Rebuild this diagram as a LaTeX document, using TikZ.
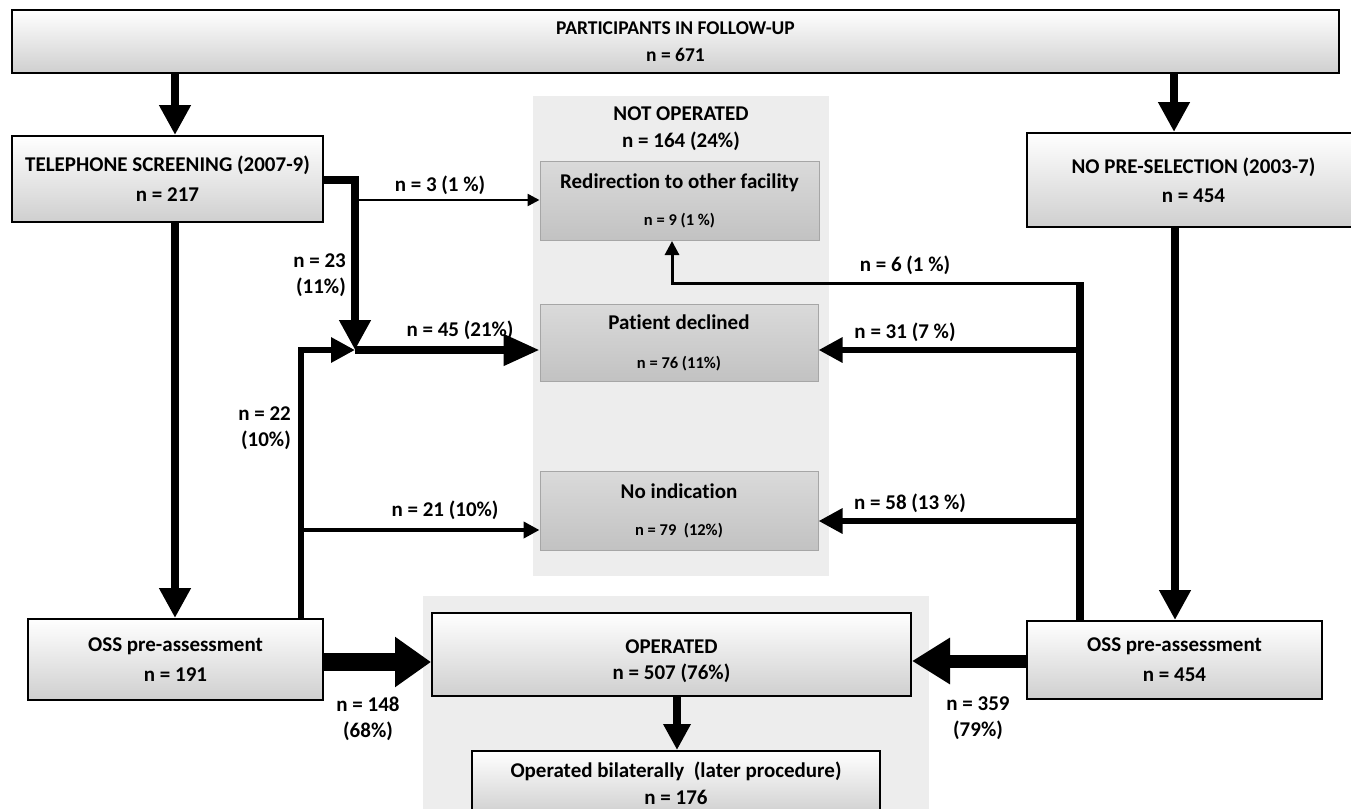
\documentclass[tikz,border=0pt]{standalone}
\usepackage{fontspec}
\setmainfont{Carlito}[Ligatures=NoCommon]
\usetikzlibrary{arrows.meta,calc}
\definecolor{bgpanel}{HTML}{EDEDED}
\definecolor{graytop}{HTML}{DADADA}
\definecolor{graybot}{HTML}{C2C2C2}
\definecolor{grayedge}{HTML}{A6A6A6}
\definecolor{boxbot}{HTML}{CFCFCF}
\tikzset{
  mainbox/.style={draw=black, line width=2pt, top color=white, bottom color=boxbot,
    inner sep=0pt, align=center, font=\bfseries\fontsize{21}{30}\selectfont},
  graybox/.style={draw=grayedge, line width=1pt, top color=graytop, bottom color=graybot,
    inner sep=0pt, align=center, font=\bfseries\fontsize{21}{25}\selectfont},
  lbl/.style={font=\bfseries\fontsize{21}{26}\selectfont, inner sep=0pt, align=center},
  thickarr/.style={line width=7.5pt, -{Triangle[length=30pt,width=30pt]}},
  medarr/.style={line width=6pt, -{Triangle[length=24pt,width=24pt]}},
  thinarr/.style={line width=2.5pt, -{Triangle[length=12pt,width=12pt]}},
  bigarr/.style={line width=18pt, -{Triangle[length=36pt,width=48pt]}},
  plainline/.style={line width=7.5pt},
}
\newcommand{\smalln}{\fontsize{16.5}{25}\selectfont}
\begin{document}
\begin{tikzpicture}[x=1pt,y=-1pt]
\useasboundingbox (0,0) rectangle (1351,808);
% background panels
\fill[bgpanel] (533,96) rectangle (829,576);
\fill[bgpanel] (423,596) rectangle (929,815);
% main boxes
\node[mainbox, minimum width=1327pt, minimum height=63pt, font=\bfseries\fontsize{19.5}{27}\selectfont] (top) at (675.5,41.5) {PARTICIPANTS IN FOLLOW-UP\\n = 671};
\node[mainbox, minimum width=311pt, minimum height=86pt] (tel) at (167.5,179) {TELEPHONE SCREENING (2007-9)\\n = 217};
\node[mainbox, minimum width=333pt, minimum height=94pt, font=\bfseries\fontsize{21}{29}\selectfont] (nps) at (1193.5,180) {NO PRE-SELECTION (2003-7)\\n = 454};
\node[mainbox, minimum width=295pt, minimum height=81pt] (ossL) at (175.5,659.5) {OSS pre-assessment\\n = 191};
\node[mainbox, minimum width=295pt, minimum height=78pt] (ossR) at (1174.5,660) {OSS pre-assessment\\n = 454};
\node[mainbox, minimum width=479pt, minimum height=83pt, font=\bfseries\fontsize{21}{26}\selectfont] (oper) at (671.5,654.5) {\rule{0pt}{27pt}OPERATED\\n = 507 (76\%)};
\node[mainbox, minimum width=408pt, minimum height=64pt, font=\bfseries\fontsize{21}{27}\selectfont] (bil) at (676,783) {Operated bilaterally\ \ (later procedure)\\n = 176};
% not operated panel title
\node[lbl, font=\bfseries\fontsize{21}{27}\selectfont] (notop) at (681,129) {NOT OPERATED\\n = 164 (24\%)};
% gray boxes
\node[graybox, minimum width=279pt, minimum height=79pt] (redir) at (679.5,201)
  {Redirection to other facility\\[12pt]\smalln n = 9 (1 \%)};
\node[graybox, minimum width=278pt, minimum height=77pt] (decl) at (679,342.5)
  {Patient declined\\[14pt]\smalln n = 76 (11\%)};
\node[graybox, minimum width=278pt, minimum height=79pt] (noind) at (679,510.5)
  {No indication\\[12pt]\smalln n = 79\ \ (12\%)};
% junction coordinates
\coordinate (jD) at (355,350);
\coordinate (jT) at (355,200);
\coordinate (jL) at (301,530);
\coordinate (jR6) at (1080,283);
\coordinate (jR31) at (1080,350);
\coordinate (jR58) at (1080,521);
% connectors
\draw[thickarr] (175,0 |- top.south) -- (175,0 |- tel.north);
\draw[thickarr] (1174,0 |- top.south) -- (1174,0 |- nps.north);
\draw[thickarr] (175,0 |- tel.south) -- (175,0 |- ossL.north);
\draw[thickarr] (1175,0 |- nps.south) -- (1175,0 |- ossR.north);
\draw[thickarr] (tel.east |- 0,180) -| (jD);
\draw[thinarr] (jT) -- (redir.west |- jT);
\draw[thickarr, -{Triangle[length=36pt,width=30pt]}] (jD) -- (decl.west |- jD);
\draw[medarr] (301,0 |- ossL.north) |- (jD);
\draw[line width=4pt, -{Triangle[length=16pt,width=16pt]}] (jL) -- (noind.west |- jL);
\draw[plainline] (1080,0 |- ossR.north) -- ([yshift=1.5pt]jR6);
\draw[line width=3pt, -{Triangle[length=14pt,width=14pt]}] ([xshift=3.75pt]jR6) -- (672,283) -- (672,0 |- redir.south);
\draw[medarr] (jR31) -- (decl.east |- jR31);
\draw[medarr] (jR58) -- (noind.east |- jR58);
\draw[bigarr] (ossL.east |- 0,662) -- (oper.west |- 0,662);
\draw[line width=13pt, -{Triangle[length=38pt,width=44pt]}] (ossR.west |- 0,661) -- (oper.east |- 0,661);
\draw[line width=7.5pt, -{Triangle[length=26pt,width=26pt]}] (677,0 |- oper.south) -- (677,0 |- bil.north);
% labels
\node[lbl] (l3) at (440,185) {n = 3 (1 \%)};
\node[lbl, anchor=east, align=right] (l23) at (346,275) {n = 23\\(11\%)};
\node[lbl] (l45) at (460,330) {n = 45 (21\%)};
\node[lbl, anchor=east, align=right] (l22) at (291,428) {n = 22\\(10\%)};
\node[lbl] (l21) at (445,510) {n = 21 (10\%)};
\node[lbl] (l6) at (905,265) {n = 6 (1 \%)};
\node[lbl] (l31) at (905,332) {n = 31 (7 \%)};
\node[lbl] (l58) at (910,503) {n = 58 (13 \%)};
\node[lbl] (l148) at (368,719) {n = 148\\(68\%)};
\node[lbl] (l359) at (978,718) {n = 359\\(79\%)};
\end{tikzpicture}
\end{document}
